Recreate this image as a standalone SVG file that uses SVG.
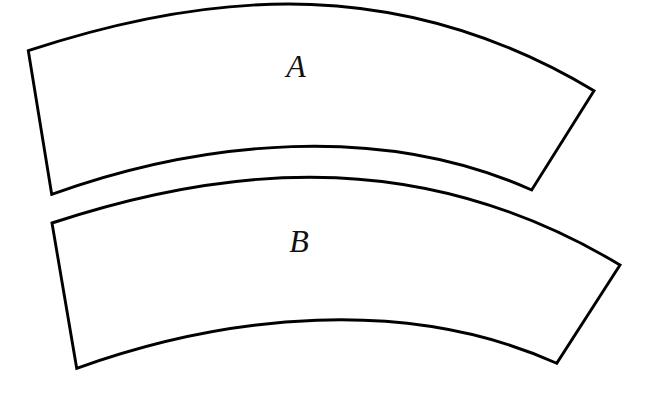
<svg xmlns="http://www.w3.org/2000/svg" width="650" height="419" viewBox="0 0 650 419">
<style>
.shape{fill:#ffffff;stroke:#000000;stroke-width:2.9;stroke-linejoin:miter}
.lbl{font-family:"Liberation Serif","Times New Roman",serif;font-style:italic;font-size:32px;fill:#111111;text-anchor:middle}
</style>
<rect width="650" height="419" fill="#ffffff"/>
<g id="nodeA">
<path class="shape" d="M28.3,50.7 C218.3,-12 404,-23.3 594,90.7 L531.7,190 C381.7,122.5 201.7,140.3 51.7,194.3 Z"/>
<text class="lbl" x="296" y="76.7">A</text>
</g>
<g id="nodeB">
<path class="shape" d="M52,223 C242,160.3 430,151 620,265 L556.7,363.3 C406.7,295.8 226.7,314.3 76.7,368.3 Z"/>
<text class="lbl" x="299" y="251.7">B</text>
</g>
<g id="connectors"/>
</svg>
